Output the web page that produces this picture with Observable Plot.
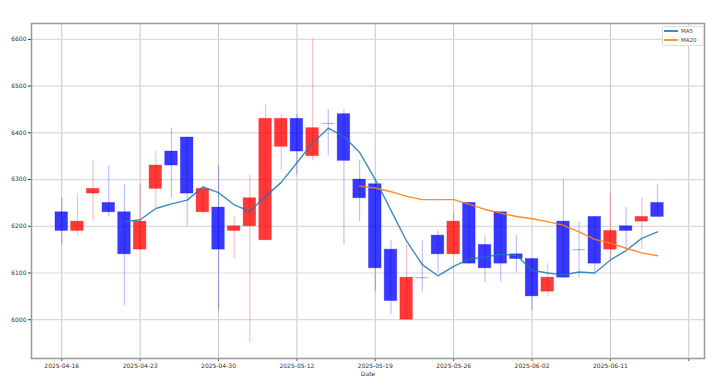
<!DOCTYPE html>
<html>
<head>
<meta charset="utf-8">
<script src="https://cdn.jsdelivr.net/npm/d3@7"></script>
<script src="https://cdn.jsdelivr.net/npm/@observablehq/plot@0.6"></script>
<style>
  html, body { margin: 0; padding: 0; background: #fff; }
  #wrap { position: relative; width: 717px; height: 385px; }
  #legend { position: absolute; left: 662px; top: 26px; width: 40px; height: 18px;
    border: 1px solid #ddd; border-radius: 2px; background: rgba(255,255,255,0.85);
    font-family: "DejaVu Sans", sans-serif; font-size: 5.5px; color: #444; }
  .row { position: absolute; left: 1px; height: 8px; display: flex; align-items: center; }
  .sw { width: 14px; height: 1.3px; margin-right: 3px; opacity: 0.85; }
</style>
</head>
<body>
<div id="wrap">
  <div id="chart"></div>
  <div id="legend">
    <div class="row" style="top:0px"><div class="sw" style="background:#1f77b4"></div>MA5</div>
    <div class="row" style="top:9px"><div class="sw" style="background:#ff7f0e"></div>MA20</div>
  </div>
</div>
<script>
const dates = ["2025-04-16","2025-04-17","2025-04-18","2025-04-21","2025-04-22","2025-04-23","2025-04-24","2025-04-25","2025-04-28","2025-04-29",
  "2025-04-30","2025-05-02","2025-05-07","2025-05-08","2025-05-09","2025-05-12","2025-05-13","2025-05-14","2025-05-15","2025-05-16",
  "2025-05-19","2025-05-20","2025-05-21","2025-05-22","2025-05-23","2025-05-26","2025-05-27","2025-05-28","2025-05-29","2025-05-30",
  "2025-06-02","2025-06-04","2025-06-05","2025-06-09","2025-06-10","2025-06-11","2025-06-12","2025-06-13","2025-06-16"];
const opens  = [6230,6190,6270,6250,6230,6150,6280,6360,6390,6230, 6240,6190,6200,6170,6370,6430,6350,6420,6440,6300, 6290,6150,6000,6090,6180,6140,6250,6160,6230,6140, 6130,6060,6210,6150,6220,6150,6200,6210,6250];
const highs  = [6260,6270,6340,6330,6290,6290,6360,6410,6390,6285, 6330,6220,6310,6460,6440,6440,6600,6450,6450,6340, 6300,6170,6160,6170,6190,6230,6250,6180,6230,6180, 6130,6120,6300,6210,6220,6270,6240,6260,6290];
const lows   = [6160,6180,6210,6220,6030,6150,6240,6260,6200,6225, 6020,6130,5950,6170,6320,6310,6340,6350,6160,6210, 6060,6010,6000,6060,6100,6140,6120,6080,6080,6100, 6020,6050,6090,6090,6100,6130,6150,6150,6220];
const closes = [6190,6210,6280,6230,6140,6210,6330,6330,6270,6280, 6150,6200,6260,6430,6430,6360,6410,6420,6340,6260, 6110,6040,6090,6090,6140,6210,6120,6110,6120,6130, 6050,6090,6090,6150,6120,6190,6190,6220,6220];
const ma5  = [null,null,null,null,6210,6214,6238,6248,6256,6284, 6272,6246,6232,6264,6294,6336,6378,6410,6392,6358, 6300,6234,6168,6118,6094,6114,6130,6134,6140,6138, 6106,6100,6096,6102,6100,6128,6148,6174,6188];
const ma20 = [null,null,null,null,null,null,null,null,null,null, null,null,null,null,null,null,null,null,null,6286, 6282,6274,6264,6257,6257,6257,6247,6236,6228,6221, 6216,6210,6202,6188,6172,6164,6153,6143,6137];
const xTicks = [0,5,10,15,20,25,30,35,40];
const yTicks = [6000,6100,6200,6300,6400,6500,6600];

const candles = dates.map((d, i) => ({i, date: d, open: opens[i], high: highs[i], low: lows[i], close: closes[i],
  up: closes[i] > opens[i]}));
const bodies = candles.filter(d => d.open !== d.close);
const dojis = candles.filter(d => d.open === d.close);
const ma5Data = ma5.map((v, i) => ({i, v}));
const ma20Data = ma20.map((v, i) => ({i, v}));
const col = d => d.up ? "#ff0000" : "#0000ff";
const hw = 0.4;

const chart = Plot.plot({
  width: 717, height: 385,
  marginLeft: 31, marginRight: 13, marginTop: 23, marginBottom: 27,
  style: {fontFamily: "DejaVu Sans, sans-serif", fontSize: "6px", color: "#333", background: "white"},
  x: {type: "linear", domain: [-1.93, 41.0]},
  y: {domain: [5917, 6634]},
  marks: [
    Plot.gridX(xTicks, {stroke: "#c8c8c8", strokeOpacity: 1, strokeWidth: 1}),
    Plot.gridY(yTicks, {stroke: "#dadada", strokeOpacity: 1, strokeWidth: 1.2}),
    Plot.ruleX(candles, {x: "i", y1: "low", y2: "high", stroke: col, strokeOpacity: 0.25, strokeWidth: 1.2}),
    Plot.rect(bodies, {x1: d => d.i - hw, x2: d => d.i + hw, y1: "open", y2: "close", fill: col, fillOpacity: 0.78,
      stroke: col, strokeOpacity: 0.35, strokeWidth: 0.8}),
    Plot.ruleY(dojis, {y: "close", x1: d => d.i - hw, x2: d => d.i + hw, stroke: "#0000ff", strokeOpacity: 0.3, strokeWidth: 1.2}),
    Plot.line(ma5Data, {x: "i", y: "v", stroke: "#1f77b4", strokeWidth: 1.4, strokeOpacity: 0.85}),
    Plot.line(ma20Data, {x: "i", y: "v", stroke: "#ff7f0e", strokeWidth: 1.4, strokeOpacity: 0.9}),
    Plot.axisX({ticks: xTicks, tickFormat: i => dates[i] ?? "", tickSize: 3, tickPadding: 2,
      label: "Date", labelAnchor: "center", labelArrow: "none", labelOffset: 17, stroke: "#555"}),
    Plot.axisY({ticks: yTicks, tickFormat: d => String(d), tickSize: 3, tickPadding: 2, label: null}),
    Plot.frame({stroke: "#999", strokeWidth: 1.5})
  ]
});
document.getElementById("chart").appendChild(chart);
</script>
</body>
</html>
